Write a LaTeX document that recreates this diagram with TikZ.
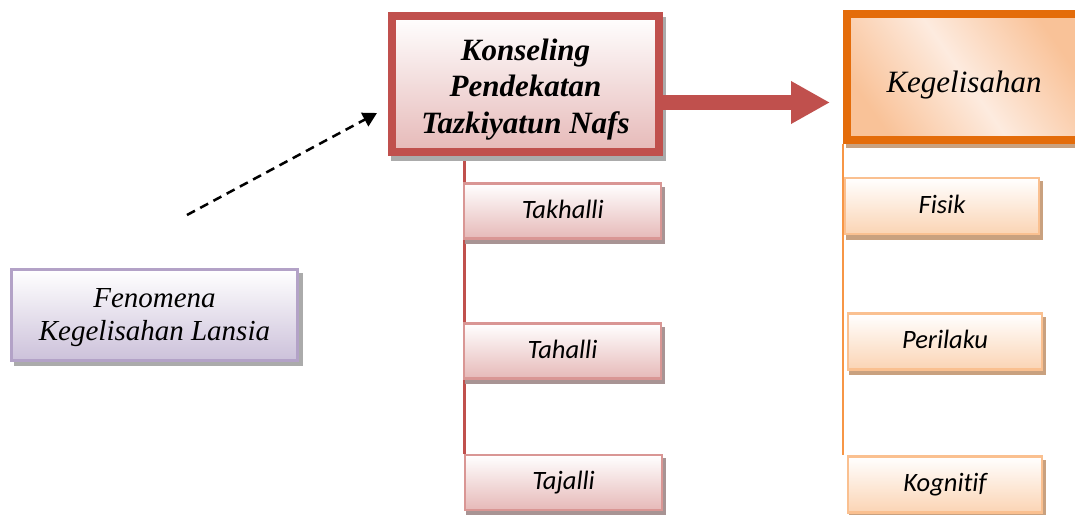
\documentclass[tikz,border=0pt]{standalone}
\usepackage{fontspec}
\setmainfont{Liberation Serif}
\newfontfamily\carl[Ligatures=NoCommon]{Carlito}
\usetikzlibrary{arrows.meta,shadows,backgrounds}
\definecolor{mred}{HTML}{C0504D}
\definecolor{sred}{HTML}{D99694}
\definecolor{pinkf}{HTML}{E6B9B8}
\definecolor{mor}{HTML}{E46C0A}
\definecolor{sor}{HTML}{FAC090}
\definecolor{peachf}{HTML}{FBD4B4}
\definecolor{peachd}{HTML}{F9C298}
\definecolor{peachl}{HTML}{FDEBDF}
\definecolor{orl}{HTML}{F79646}
\definecolor{purb}{HTML}{B3A2C7}
\definecolor{purf}{HTML}{CCC1DA}
\definecolor{shgray}{HTML}{ABABAB}
\definecolor{shred}{HTML}{A89494}
\definecolor{shor}{HTML}{C9A17F}
\begin{document}
\begin{tikzpicture}[x=1pt,y=-1pt,
  mainbox/.style={draw=mred, line width=8pt, inner sep=0pt,
    minimum width=267pt, minimum height=136pt,
    top color=white, bottom color=pinkf, align=center,
    font=\fontsize{31}{36.5}\selectfont\bfseries\itshape,
    general shadow={shadow xshift=3pt, shadow yshift=-5pt, fill=shgray, draw=shgray, line width=8pt}},
  kgbox/.style={draw=mor, line width=8pt, inner sep=0pt,
    minimum width=234pt, minimum height=126.5pt,
    left color=peachd, right color=peachd, middle color=peachl, shading angle=125,
    text height=36.5pt, text depth=6pt,
    font=\fontsize{31}{36}\selectfont\itshape,
    general shadow={shadow xshift=3pt, shadow yshift=-4pt, fill=shor, draw=shor, line width=8pt}},
  fenbox/.style={draw=purb, line width=3pt, inner sep=0pt,
    minimum width=286pt, minimum height=90.4pt,
    top color=white, bottom color=purf, align=center,
    font=\fontsize{29}{32.7}\selectfont\itshape,
    general shadow={shadow xshift=3.5pt, shadow yshift=-4.5pt, fill=shgray, draw=shgray, line width=3pt}},
  redsub/.style={draw=sred, line width=2.5pt, inner sep=0pt,
    minimum width=197pt, minimum height=55pt,
    top color=white, bottom color=pinkf,
    text height=17pt, text depth=3pt,
    font=\carl\itshape\fontsize{26.5}{30}\selectfont,
    general shadow={shadow xshift=2.5pt, shadow yshift=-4.5pt, fill=shred, draw=shred, line width=2.5pt}},
  orsub/.style={draw=sor, line width=2.5pt, inner sep=0pt,
    minimum width=194pt, minimum height=56pt,
    top color=white, bottom color=peachf,
    text height=17pt, text depth=3pt,
    font=\carl\itshape\fontsize{26.5}{30}\selectfont,
    general shadow={shadow xshift=2.5pt, shadow yshift=-4.5pt, fill=shor, draw=shor, line width=2.5pt}},
  redline/.style={draw=mred, line width=3pt},
  orline/.style={draw=orl, line width=2.5pt},
  bigarrow/.style={draw=mred, line width=15pt, -{Triangle[length=39pt, width=40pt]}},
  dasharrow/.style={draw=black, line width=2.5pt, dash pattern=on 9pt off 6pt,
    -{Triangle[length=14pt, width=15pt]}}
]
\useasboundingbox (0,0) rectangle (1075,514);

% main nodes
\node[mainbox] (main) at (525.5,84) {\rule{0pt}{31.8pt}Konseling\\Pendekatan\\Tazkiyatun Nafs};
\node[kgbox] (kg) at (964,76.75) {Kegelisahan};
\node[fenbox] (fen) at (154.5,315) {\rule{0pt}{23.6pt}Fenomena\\Kegelisahan Lansia};

% sub boxes
\node[redsub] (takhalli) at (562.7,211) {Takhalli};
\node[redsub] (tahalli) at (562.5,351) {Tahalli};
\node[redsub] (tajalli) at (563.5,482.5) {Tajalli};
\node[orsub] (fisik) at (942,206) {Fisik};
\node[orsub] (perilaku) at (945,341.7) {Perilaku};
\node[orsub] (kognitif) at (945,484.5) {Kognitif};

% vertical connectors behind
\begin{scope}[on background layer]
  \draw[redline] ([xshift=1.5pt]takhalli.west |- main.south) -- ([xshift=1.5pt]takhalli.west |- tajalli.north);
  \draw[orline] (kg.south west) -- (kg.south west |- kognitif.north);
\end{scope}

% big arrow
\coordinate (arrstart) at ([yshift=-18.5pt]main.east);
\draw[bigarrow] (arrstart) -- ([xshift=-13pt]kg.west |- arrstart);

% dashed arrow
\coordinate (dstart) at (187,215);
\coordinate (dend) at (377,113);
\draw[dasharrow] (dstart) -- (dend);
\end{tikzpicture}
\end{document}
